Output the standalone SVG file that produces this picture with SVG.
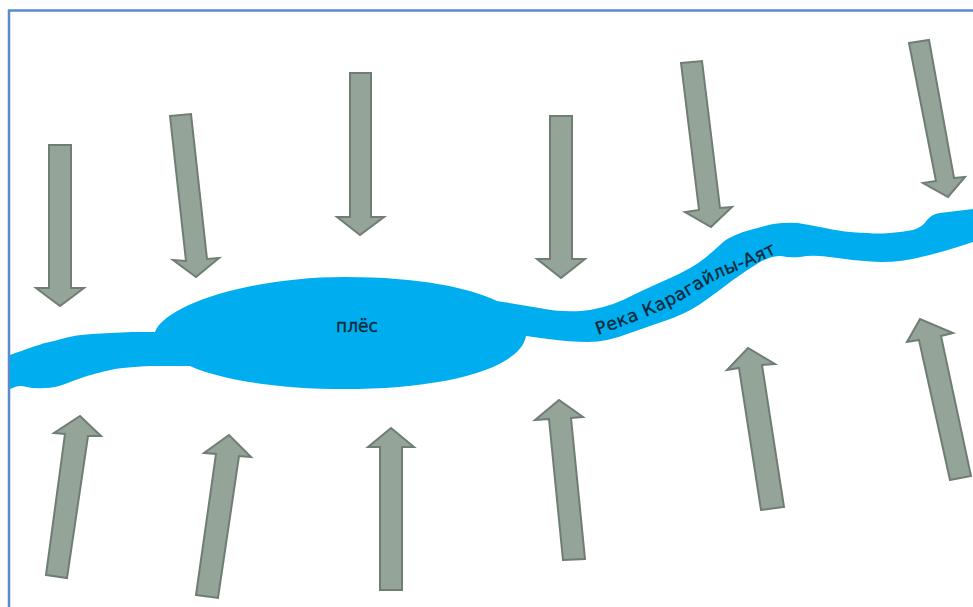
<svg xmlns="http://www.w3.org/2000/svg" width="973" height="607" viewBox="0 0 973 607">
<style>
.arrow{fill:#95a498;stroke:#6f7d73;stroke-width:2;stroke-linejoin:miter}
.water{fill:#00aeef}
.label{font-family:"DejaVu Sans",sans-serif;fill:#062a3a;stroke:#062a3a;stroke-width:.35}
</style>
<defs>
<path id="riverline" d="M598 335 C640 320 672 307 698 290 C725 272 750 268 782 250"/>
<filter id="soft" x="-5%" y="-5%" width="110%" height="110%"><feGaussianBlur stdDeviation="0.6"/></filter>
</defs>
<rect width="973" height="607" fill="#fff"/>
<path d="M9 607V10.500H973" fill="none" stroke="#5b8bcb" stroke-width="2.500"/>
<g id="river" filter="url(#soft)">
<path class="water" d="M10 355 Q35 346 45 343 Q55 341 65 338 Q75 335 92 334 Q110 333 132 332 L155 332 C165 305 250 277 345 277 C420 277 470 288 497 301 Q530 306 545 309 Q560 312 581 311 Q603 309 623 300 Q643 290 668 279 Q693 268 705 258 Q717 248 722 243 Q727 238 743 232 Q760 227 773 224 Q787 222 798 223 Q810 225 825 228 Q840 231 850 232 Q860 233 868 233 Q877 234 890 233 Q903 232 913 230 Q923 227 927 220 Q932 214 940 213 L973 209 V242 Q940 253 921 257 Q903 262 881 262 Q860 261 845 259 Q830 257 820 256 Q810 255 800 257 Q790 258 781 256 Q773 255 760 262 Q747 270 733 280 Q720 290 706 300 Q693 310 673 318 Q653 325 630 333 Q607 342 588 342 Q570 342 548 339 L526 336 C520 370 440 389 345 389 C280 389 220 380 190 366 L150 366 Q130 367 115 369 Q100 372 87 376 Q75 380 65 384 Q55 388 45 388 Q35 389 27 387 Q20 385 15 387 L10 389 Z"/>
</g>
<g id="arrows" filter="url(#soft)">
<polygon id="arrow-down-1" class="arrow" points="49,145 71,145 71,288 84,288 60,306 36,288 49,288"/>
<polygon id="arrow-down-2" class="arrow" points="170,116 191,114 207,259 219,258 196,277 173,260 186,261"/>
<polygon id="arrow-down-3" class="arrow" points="350,73 371,73 371,217 384,217 360,235 337,217 350,217"/>
<polygon id="arrow-down-4" class="arrow" points="550,116 572,116 572,259 585,259 561,278 537,259 550,259"/>
<polygon id="arrow-down-5" class="arrow" points="681,63 702,61 720,208 732,207 711,227 685,212 699,210"/>
<polygon id="arrow-down-6" class="arrow" points="909,43 929,40 954,178 965,177 948,197 923,183 936,181"/>
<polygon id="arrow-up-1" class="arrow" points="46,575 67,578 88,436 101,436 80,416 54,433 65,434"/>
<polygon id="arrow-up-2" class="arrow" points="196,595 218,598 239,456 251,457 229,435 204,453 216,454"/>
<polygon id="arrow-up-3" class="arrow" points="380,590 402,590 402,447 414,447 391,428 368,447 380,447"/>
<polygon id="arrow-up-4" class="arrow" points="563,560 585,559 571,418 583,417 559,400 535,420 549,419"/>
<polygon id="arrow-up-5" class="arrow" points="761,510 784,507 762,365 775,364 748,348 727,370 739,368"/>
<polygon id="arrow-up-6" class="arrow" points="950,480 971,476 941,336 953,333 920,319 907,342 919,340"/>
</g>
<g id="labels">
<text class="label" x="357" y="332" font-size="17" text-anchor="middle">плёс</text>
<text class="label" font-size="17.500" letter-spacing="0.5"><textPath href="#riverline">Река Карагайлы-Аят</textPath></text>
</g>
</svg>
